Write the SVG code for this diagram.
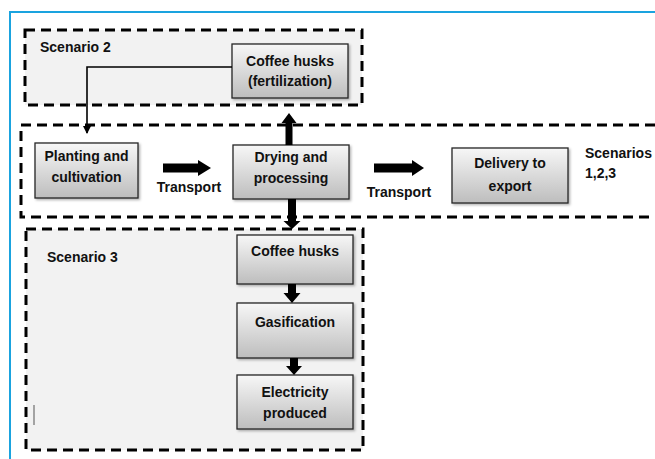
<svg xmlns="http://www.w3.org/2000/svg" width="655" height="459" viewBox="0 0 655 459">
<defs>
<linearGradient id="g" x1="0" y1="0" x2="0" y2="1">
<stop offset="0" stop-color="#f7f7f7"/>
<stop offset="1" stop-color="#bdbdbd"/>
</linearGradient>
<marker id="ah" markerWidth="8" markerHeight="8" refX="7" refY="4" orient="auto" markerUnits="userSpaceOnUse">
<path d="M0,0 L8,4 L0,8 Z" fill="#000"/>
</marker>
<filter id="sh" x="-10%" y="-10%" width="130%" height="130%">
<feDropShadow dx="1.5" dy="1.5" stdDeviation="1" flood-color="#000" flood-opacity="0.3"/>
</filter>
</defs>
<style>
.frame{fill:none;stroke:#1aa3df;stroke-width:2}
.grp{stroke:#000;stroke-width:3;stroke-dasharray:10 6}
.box{fill:url(#g);stroke:#262626;stroke-width:1.3;filter:url(#sh)}
.t{font-family:"Liberation Sans",Arial,sans-serif;font-weight:bold;font-size:14px;fill:#111;text-anchor:middle}
.l{font-family:"Liberation Sans",Arial,sans-serif;font-weight:bold;font-size:14px;fill:#111}
.blk{fill:#000}
</style>
<rect width="655" height="459" fill="#fff"/>
<path class="frame" d="M10,459 V12 H660"/>

<g id="scenario2">
<rect class="grp" x="25" y="30" width="337" height="75" fill="#f2f2f2"/>
<text class="l" x="40" y="52">Scenario 2</text>
</g>
<g id="main-chain">
<rect class="grp" x="21" y="125" width="660" height="92" fill="#fff"/>
<text class="l" x="585" y="158">Scenarios</text>
<text class="l" x="585" y="178">1,2,3</text>
</g>
<g id="scenario3">
<rect class="grp" x="26" y="229" width="337" height="221" fill="#f2f2f2"/>
<text class="l" x="47" y="262">Scenario 3</text>
<line x1="34" y1="405" x2="34" y2="425" stroke="#555" stroke-width="1"/>
</g>

<g id="husks-fert">
<rect class="box" x="232" y="44" width="116" height="54"/>
<text class="t" x="290" y="66">Coffee husks</text>
<text class="t" x="290" y="86">(fertilization)</text>
</g>
<g id="planting">
<rect class="box" x="35" y="143" width="103" height="55"/>
<text class="t" x="86.5" y="161">Planting and</text>
<text class="t" x="86.5" y="182">cultivation</text>
</g>
<g id="drying">
<rect class="box" x="233" y="145" width="116" height="54"/>
<text class="t" x="291" y="162">Drying and</text>
<text class="t" x="291" y="183">processing</text>
</g>
<g id="delivery">
<rect class="box" x="452" y="148" width="116" height="55"/>
<text class="t" x="510" y="168">Delivery to</text>
<text class="t" x="510" y="191">export</text>
</g>
<g id="husks">
<rect class="box" x="237" y="235" width="116" height="49"/>
<text class="t" x="295" y="256">Coffee husks</text>
</g>
<g id="gasification">
<rect class="box" x="237" y="303" width="116" height="55"/>
<text class="t" x="295" y="327">Gasification</text>
</g>
<g id="electricity">
<rect class="box" x="237" y="375" width="116" height="54"/>
<text class="t" x="295" y="397">Electricity</text>
<text class="t" x="295" y="418">produced</text>
</g>

<g id="connectors">
<path d="M232,67 H87 V133" fill="none" stroke="#000" stroke-width="1.6" marker-end="url(#ah)"/>
<path class="blk" d="M163,163.5 H198 V160 L211,168 L198,176 V172.5 H163 Z"/>
<text class="l" x="189" y="192" text-anchor="middle" font-size="14.5">Transport</text>
<path class="blk" d="M374,163.5 H412 V160 L424,168 L412,176 V172.5 H374 Z"/>
<text class="l" x="399" y="197" text-anchor="middle" font-size="14.5">Transport</text>
<path class="blk" d="M285.5,145 V123 H281.5 L289,113 L296.5,123 H292.5 V145 Z"/>
<path class="blk" d="M288,199 V221 H283.5 L292,229 L300.5,221 H296 V199 Z"/>
<path class="blk" d="M288,284 V293 H283.5 L292,303 L300.5,293 H296 V284 Z"/>
<path class="blk" d="M290,358 V366 H286 L294,375 L302,366 H298 V358 Z"/>
</g>
</svg>
